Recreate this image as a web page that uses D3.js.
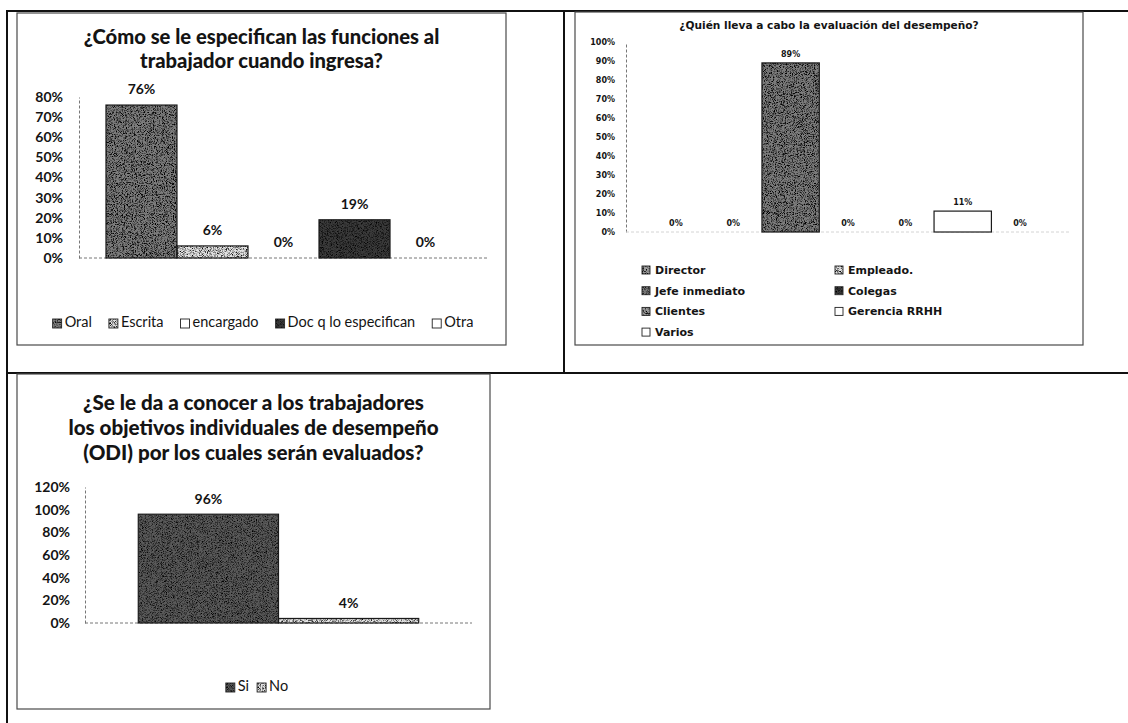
<!DOCTYPE html>
<html>
<head>
<meta charset="utf-8">
<script src="https://cdn.jsdelivr.net/npm/d3@7"></script>
<style>
  body { margin: 0; background: #fff; }
  svg { display: block; font-family: Lato, "Open Sans", "DejaVu Sans", sans-serif; }
</style>
</head>
<body>
<svg id="page" width="1128" height="723"></svg>
<script>
// ---- Survey results ----
// Chart 1: how job functions are explained to a new worker
const funcCategories = ["Oral", "Escrita", "encargado", "Doc q lo especifican", "Otra"];
const funcValues = [0.76, 0.06, 0.00, 0.19, 0.00];
const funcTicks = [0, 0.1, 0.2, 0.3, 0.4, 0.5, 0.6, 0.7, 0.8];
const funcTitle = ["¿Cómo se le especifican las funciones al", "trabajador cuando ingresa?"];

// Chart 2: who performs the performance evaluation
const evalCategories = ["Director", "Empleado.", "Jefe inmediato", "Colegas", "Clientes", "Gerencia RRHH", "Varios"];
const evalValues = [0.00, 0.00, 0.89, 0.00, 0.00, 0.11, 0.00];
const evalTicks = [0, 0.1, 0.2, 0.3, 0.4, 0.5, 0.6, 0.7, 0.8, 0.9, 1.0];
const evalTitle = ["¿Quién lleva a cabo la evaluación del desempeño?"];

// Chart 3: are individual performance objectives (ODI) communicated
const odiCategories = ["Si", "No"];
const odiValues = [0.96, 0.04];
const odiTicks = [0, 0.2, 0.4, 0.6, 0.8, 1.0, 1.2];
const odiTitle = ["¿Se le da a conocer a los trabajadores",
                  "los objetivos individuales de desempeño",
                  "(ODI) por los cuales serán evaluados?"];

// ---- Drawing ----
const pct = d3.format(".0%");
const svg = d3.select("#page");
const defs = svg.append("defs");
const ink = "#141414";
const mainFont = "Lato, 'Open Sans', sans-serif";
const wideFont = "'DejaVu Sans', Verdana, sans-serif";

// Speckled print texture for the filled bars
function grain(id, seed, freq, slope) {
  const f = defs.append("filter").attr("id", id)
    .attr("x", 0).attr("y", 0).attr("width", "100%").attr("height", "100%")
    .attr("color-interpolation-filters", "sRGB");
  f.append("feTurbulence").attr("type", "fractalNoise")
    .attr("baseFrequency", freq).attr("numOctaves", 2).attr("seed", seed).attr("result", "noise");
  f.append("feColorMatrix").attr("in", "noise").attr("type", "matrix")
    .attr("values", "0.33 0.33 0.33 0 0  0.33 0.33 0.33 0 0  0.33 0.33 0.33 0 0  0 0 0 0 1")
    .attr("result", "gray");
  const ct = f.append("feComponentTransfer").attr("in", "gray").attr("result", "contrast");
  ["feFuncR", "feFuncG", "feFuncB"].forEach(k =>
    ct.append(k).attr("type", "linear").attr("slope", slope).attr("intercept", 0.85 - slope * 0.5));
  f.append("feBlend").attr("in", "SourceGraphic").attr("in2", "contrast").attr("mode", "multiply").attr("result", "mix");
  f.append("feComposite").attr("in", "mix").attr("in2", "SourceGraphic").attr("operator", "in");
}
grain("grainA", 3, 1.1, 6);
grain("grainB", 7, 1.2, 5);

const styles = {
  dark:    { fill: "#7c7c7c", filter: "grainA" },
  darker:  { fill: "#5a5a5a", filter: "grainB" },
  light:   { fill: "#e2e2e2", filter: "grainB" },
  mid:     { fill: "#9a9a9a", filter: "grainA" },
  black:   { fill: "#3a3a3a", filter: "grainB" },
  white:   { fill: "#ffffff", filter: null }
};

// Page frame lines
const frame = svg.append("g").attr("stroke", "#111").attr("stroke-width", 2).attr("fill", "none");
frame.append("line").attr("x1", 6).attr("x2", 1128).attr("y1", 11).attr("y2", 11);
frame.append("line").attr("x1", 7).attr("x2", 7).attr("y1", 10).attr("y2", 723);
frame.append("line").attr("x1", 564).attr("x2", 564).attr("y1", 10).attr("y2", 373);
frame.append("line").attr("x1", 6).attr("x2", 1128).attr("y1", 373).attr("y2", 373);

function chartBox(x0, y0, x1, y1) {
  svg.append("rect").attr("x", x0).attr("y", y0).attr("width", x1 - x0).attr("height", y1 - y0)
    .attr("fill", "none").attr("stroke", "#4a4a4a").attr("stroke-width", 1.2);
}

function swatch(g, x, y, size, st) {
  g.append("rect").attr("x", x).attr("y", y).attr("width", size).attr("height", size)
    .attr("fill", st.fill).attr("filter", st.filter ? `url(#${st.filter})` : null);
  g.append("rect").attr("x", x).attr("y", y).attr("width", size).attr("height", size)
    .attr("fill", "none").attr("stroke", "#222").attr("stroke-width", 0.9);
}

function barChart(o) {
  const g = svg.append("g").attr("font-family", o.font);
  // title
  o.title.forEach((t, i) => {
    g.append("text").attr("x", o.cx).attr("y", o.titleY + i * o.titleGap)
      .attr("text-anchor", "middle").attr("font-weight", o.titleWeight).attr("font-size", o.titleSize)
      .attr("fill", ink).text(t);
  });
  const y = d3.scaleLinear().domain([0, o.ticks[o.ticks.length - 1]]).range(o.yRange);
  const x = d3.scaleBand().domain(o.categories).range(o.xRange).paddingInner(0).paddingOuter(o.padOuter);

  // value axis
  const ax = g.append("g").attr("transform", `translate(${o.xRange[0]},0)`)
    .call(d3.axisLeft(y).tickValues(o.ticks).tickFormat(pct).tickSize(0).tickPadding(o.tickPad));
  ax.select(".domain").attr("stroke", "#777").attr("stroke-dasharray", "3,2").attr("stroke-width", 1);
  ax.selectAll("text").attr("font-size", o.tickSize).attr("font-weight", 700).attr("fill", ink)
    .attr("font-family", o.font);

  // baseline
  g.append("line").attr("x1", o.xRange[0]).attr("x2", o.xRange[1]).attr("y1", y(0)).attr("y2", y(0))
    .attr("stroke", o.baseColor).attr("stroke-dasharray", "3,2").attr("stroke-width", 1);

  const rows = o.categories.map((c, i) => ({ c, v: o.values[i], st: styles[o.fills[i]] }));
  g.selectAll("rect.bar").data(rows).join("rect").attr("class", "bar")
    .attr("x", d => x(d.c)).attr("y", d => y(d.v))
    .attr("width", x.bandwidth()).attr("height", d => y(0) - y(d.v))
    .attr("fill", d => d.st.fill).attr("filter", d => d.st.filter ? `url(#${d.st.filter})` : null);
  g.selectAll("rect.edge").data(rows.filter(d => d.v > 0)).join("rect").attr("class", "edge")
    .attr("x", d => x(d.c)).attr("y", d => y(d.v))
    .attr("width", x.bandwidth()).attr("height", d => y(0) - y(d.v))
    .attr("fill", "none").attr("stroke", "#1a1a1a").attr("stroke-width", 1.2);

  g.selectAll("text.val").data(rows).join("text").attr("class", "val")
    .attr("x", d => x(d.c) + x.bandwidth() / 2).attr("y", d => y(d.v) - o.labelGap)
    .attr("text-anchor", "middle").attr("font-size", o.labelSize).attr("font-weight", 700)
    .attr("fill", ink).text(d => pct(d.v));
  return { g, rows };
}

// Inline legend, centred under the plot
function rowLegend(g, rows, cx, y, size, box, gap, weight) {
  const lg = g.append("g");
  let xPos = 0;
  rows.forEach(d => {
    const item = lg.append("g").attr("transform", `translate(${xPos},0)`);
    swatch(item, 0, -box + 1, box, d.st);
    const t = item.append("text").attr("x", box + 3).attr("y", 0).attr("font-size", size)
      .attr("font-weight", weight).attr("fill", ink).text(d.c);
    xPos += box + 3 + t.node().getComputedTextLength() + gap;
  });
  const w = xPos - gap;
  lg.attr("transform", `translate(${cx - w / 2},${y})`);
}

// ---- Chart 1 ----
chartBox(17, 13, 506, 345);
const c1 = barChart({
  font: mainFont, cx: 261.5, title: funcTitle, titleY: 44, titleGap: 23.5, titleSize: 20.2, titleWeight: 900,
  categories: funcCategories, values: funcValues, ticks: funcTicks,
  fills: ["dark", "light", "white", "black", "white"],
  yRange: [258, 97], xRange: [79, 488], padOuter: 0.38,
  tickPad: 16, tickSize: 14, labelSize: 14, labelGap: 11, baseColor: "#777"
});
rowLegend(c1.g, c1.rows, 263, 327, 14.5, 9, 17, 400);

// ---- Chart 2 ----
chartBox(575, 12, 1083, 345);
const c2 = barChart({
  font: wideFont, cx: 829, title: evalTitle, titleY: 29, titleGap: 0, titleSize: 10.6, titleWeight: 700,
  categories: evalCategories, values: evalValues, ticks: evalTicks,
  fills: ["mid", "light", "dark", "black", "mid", "white", "white"],
  yRange: [232, 42], xRange: [626, 1070], padOuter: 0.37,
  tickPad: 11, tickSize: 8, labelSize: 8, labelGap: 6, baseColor: "#d4d4d4"
});
// two-column legend
const lg2 = c2.g.append("g");
c2.rows.forEach((d, i) => {
  const col = i % 2, row = Math.floor(i / 2);
  const gx = col === 0 ? 642 : 835, gy = 274 + row * 20.7;
  swatch(lg2, gx, gy - 8, 8, d.st);
  lg2.append("text").attr("x", gx + 13).attr("y", gy).attr("font-size", 11)
    .attr("font-weight", 700).attr("fill", ink).text(d.c);
});

// ---- Chart 3 ----
chartBox(17, 374, 490, 709);
const c3 = barChart({
  font: mainFont, cx: 253.5, title: odiTitle, titleY: 410, titleGap: 25, titleSize: 20.6, titleWeight: 900,
  categories: odiCategories, values: odiValues, ticks: odiTicks,
  fills: ["darker", "light"],
  yRange: [623, 487], xRange: [85, 472], padOuter: 0.38,
  tickPad: 15, tickSize: 14, labelSize: 14, labelGap: 10, baseColor: "#777"
});
rowLegend(c3.g, c3.rows, 257, 691, 14.5, 9, 8, 400);
</script>
</body>
</html>
